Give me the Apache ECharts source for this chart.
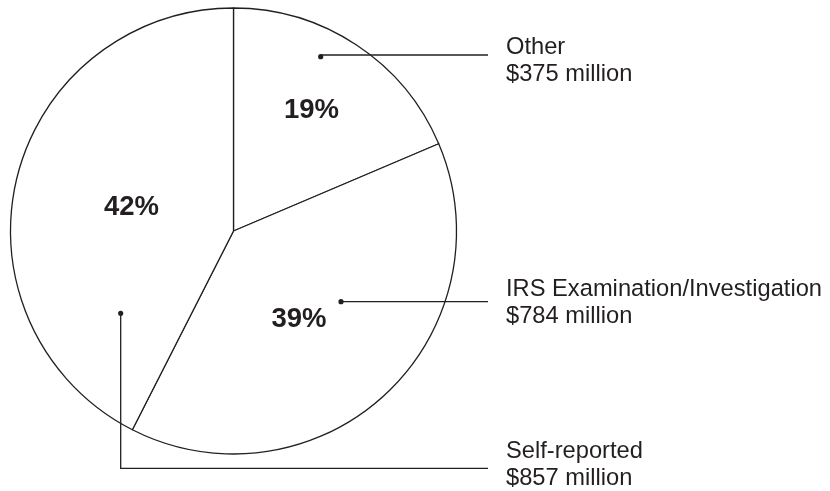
<!DOCTYPE html>
<html>
<head>
<meta charset="utf-8">
<script src="https://cdn.jsdelivr.net/npm/echarts@6/dist/echarts.min.js"></script>
<style>html,body{margin:0;padding:0;background:#fff}#c{width:830px;height:491px}</style>
</head>
<body>
<div id="c"></div>
<script>
// ---- data ----
var categories = ['Other', 'IRS Examination/Investigation', 'Self-reported'];
var amounts = [375, 784, 857];               // $ million
var amountLabels = ['$375 million', '$784 million', '$857 million'];
var percentLabels = ['19%', '39%', '42%'];

// ---- layout / style ----
var CX = 233.5, CY = 231, R = 223;
var INK = '#231f20';
var pctOffset = [[78, -121], [65.5, 88], [-102, -23.5]];     // label centre relative to pie centre
var dotOffset = [[87.2, -174.3], [107.5, 70.7], [-112.8, 82.3]]; // callout dot relative to pie centre
var lineEndX = 488, textX = 506;
var textCenterY = [61, 303, 465];
var lineY = [55, 301.7, 468.3];

var chart = echarts.init(document.getElementById('c'), null, {renderer: 'canvas'});
var pieData = categories.map(function (c, i) { return {name: c, value: amounts[i]}; });

var graphics = dotOffset.map(function (d) {
  return {type: 'circle', shape: {cx: CX + d[0], cy: CY + d[1], r: 2.6}, style: {fill: INK}, z: 100, silent: true};
});

chart.setOption({
  backgroundColor: '#ffffff',
  animation: false,
  graphic: graphics,
  series: [
    {
      type: 'pie',
      center: [CX, CY],
      radius: [0, R],
      startAngle: 90,
      clockwise: true,
      silent: true,
      avoidLabelOverlap: false,
      itemStyle: {color: '#ffffff', borderColor: INK, borderWidth: 1.3},
      label: {
        show: true,
        position: 'inside',
        formatter: function (p) { return percentLabels[p.dataIndex]; },
        fontFamily: 'Liberation Sans, Arial, sans-serif',
        fontWeight: 'bold',
        fontSize: 27.5,
        color: INK
      },
      labelLine: {show: false},
      labelLayout: function (p) {
        var o = pctOffset[p.dataIndex];
        return {x: CX + o[0], y: CY + o[1], align: 'center', verticalAlign: 'middle', hideOverlap: false};
      },
      data: pieData
    },
    {
      type: 'pie',
      center: [CX, CY],
      radius: [0, R],
      startAngle: 90,
      clockwise: true,
      silent: true,
      avoidLabelOverlap: false,
      z: 5,
      itemStyle: {color: 'rgba(0,0,0,0)', borderWidth: 0},
      label: {
        show: true,
        position: 'outside',
        overflow: 'none',
        formatter: function (p) { return p.name + '\n' + amountLabels[p.dataIndex]; },
        fontFamily: 'Liberation Sans, Arial, sans-serif',
        fontSize: 23.7,
        lineHeight: 27,
        color: INK,
        align: 'left'
      },
      labelLine: {show: true, lineStyle: {color: INK, width: 1.3}},
      labelLayout: function (p) {
        var i = p.dataIndex;
        var d = dotOffset[i];
        var sx = CX + d[0], sy = CY + d[1];
        var pts;
        if (i === 2) {
          pts = [[sx, sy], [sx, lineY[i]], [lineEndX, lineY[i]]];
        } else {
          pts = [[sx, lineY[i]], [(sx + lineEndX) / 2, lineY[i]], [lineEndX, lineY[i]]];
        }
        return {x: textX, y: textCenterY[i], align: 'left', verticalAlign: 'middle', hideOverlap: false, moveOverlap: false, labelLinePoints: pts};
      },
      data: pieData
    }
  ]
});
</script>
</body>
</html>
